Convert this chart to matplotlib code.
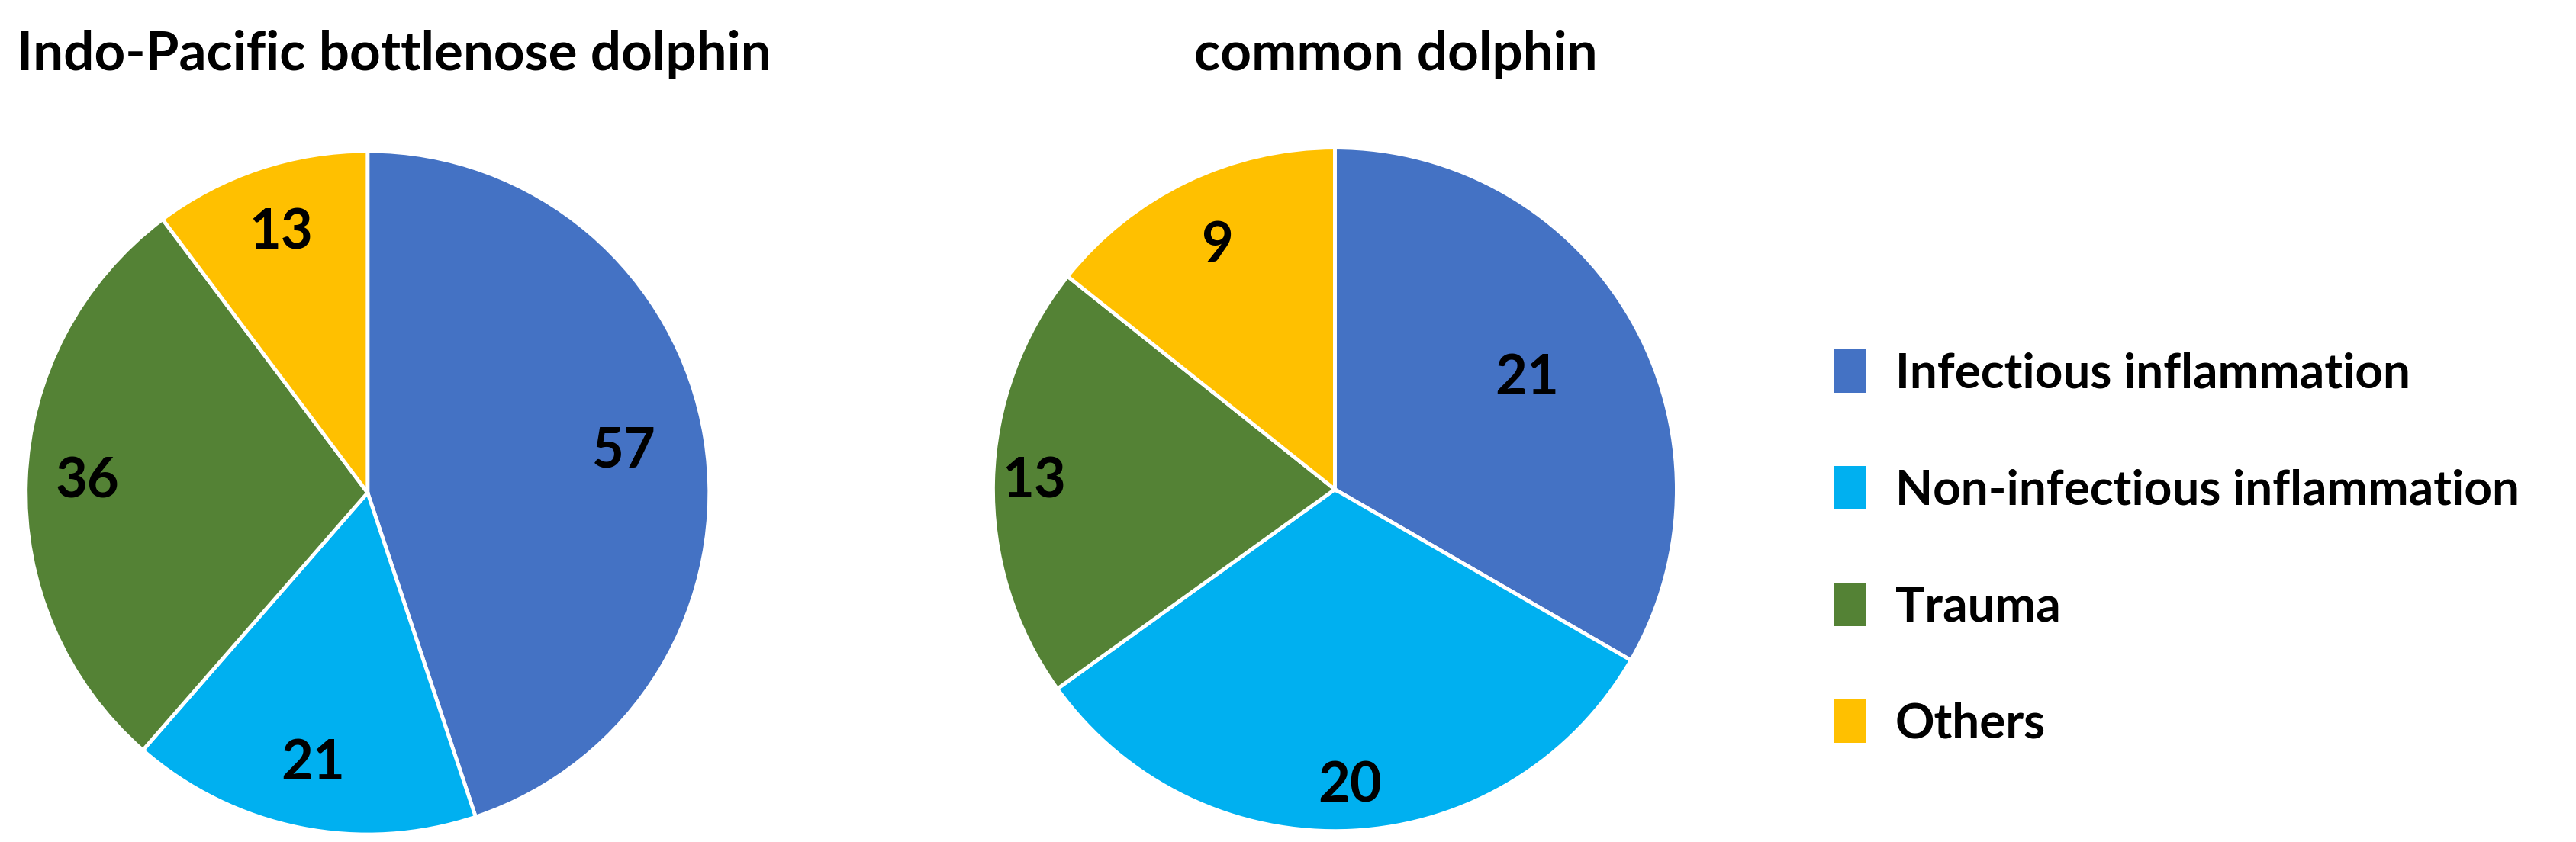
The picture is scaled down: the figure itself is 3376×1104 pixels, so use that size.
import numpy as np
import matplotlib
matplotlib.use("Agg")
from matplotlib import pyplot as plt
from matplotlib.patches import Patch

plt.rcParams['font.family'] = ['Lato', 'DejaVu Sans']

categories = ["Infectious inflammation", "Non-infectious inflammation", "Trauma", "Others"]
colors = ["#4472C4", "#00B0F0", "#548235", "#FFC000"]

indo_values = [57, 21, 36, 13]
common_values = [21, 20, 13, 9]

# how far each count label sits from the centre (fraction of radius)
indo_label_dist = [0.76, 0.81, 0.82, 0.80]
common_label_dist = [0.65, 0.87, 0.88, 0.79]


def draw_pie(ax, values, label_dist, title, title_x, title_ha):
    wedges, _ = ax.pie(values, colors=colors, startangle=90, counterclock=False,
                       radius=1, wedgeprops=dict(edgecolor="white", linewidth=3.5))
    for w, v, d in zip(wedges, values, label_dist):
        ang = np.deg2rad((w.theta1 + w.theta2) / 2)
        ax.text(d * np.cos(ang), d * np.sin(ang), str(v), ha="center", va="center",
                fontsize=52, fontweight="bold", color="black")
    ax.set_xlim(-1, 1)
    ax.set_ylim(-1, 1)
    ax.set_aspect("equal")
    ax.axis("off")
    fig.text(title_x, 0.935, title, ha=title_ha, va="center",
             fontsize=51, fontweight="bold")


fig = plt.figure(figsize=(33.76, 11.04), dpi=100)

ax1 = fig.add_axes([0.0100, 0.0090, 0.2654, 0.8116])
ax2 = fig.add_axes([0.3855, 0.0130, 0.2654, 0.8116])

draw_pie(ax1, indo_values, indo_label_dist, "Indo-Pacific bottlenose dolphin", 0.0065, "left")
draw_pie(ax2, common_values, common_label_dist, "common dolphin", 0.542, "center")

handles = [Patch(facecolor=c, edgecolor="none") for c in colors]
fig.legend(handles, categories, loc="center left", bbox_to_anchor=(0.695, 0.35),
           frameon=False, prop=dict(weight="bold", size=46),
           handlelength=0.65, handleheight=1.0, handletextpad=0.6,
           labelspacing=1.45)

fig.savefig("out.png", dpi=100, facecolor="white")
